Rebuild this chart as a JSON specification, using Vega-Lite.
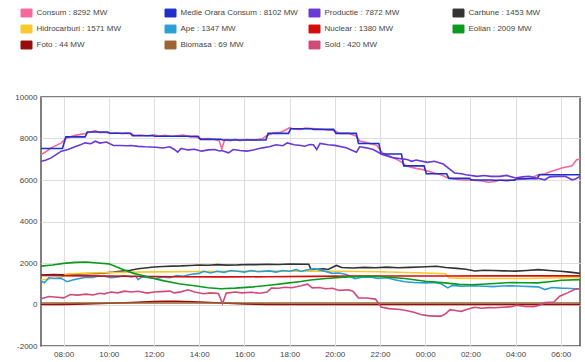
{
"$schema": "https://vega.github.io/schema/vega-lite/v6.json",
"width": 539, "height": 249,
"autosize": "none",
"padding": {"left": 41, "top": 97, "right": 5, "bottom": 16},
"config": {"font": "Liberation Sans", "view": {"stroke": "#555", "strokeWidth": 1.5},
  "axis": {"gridColor": "#dedede", "gridWidth": 1, "domain": false, "tickSize": 0, "labelFontSize": 8, "labelColor": "#444", "title": null}},
"datasets": {
"d": [
{"s":"Consum","h":7,"v":7220},{"s":"Consum","h":7.2,"v":7350},{"s":"Consum","h":7.45,"v":7550},{"s":"Consum","h":7.7,"v":7680},{"s":"Consum","h":7.9,"v":7790},{"s":"Consum","h":8.1,"v":8000},{"s":"Consum","h":8.3,"v":8080},{"s":"Consum","h":8.5,"v":8150},{"s":"Consum","h":8.75,"v":8200},{"s":"Consum","h":8.95,"v":8245},{"s":"Consum","h":9.15,"v":8300},{"s":"Consum","h":9.4,"v":8380},{"s":"Consum","h":9.6,"v":8280},{"s":"Consum","h":9.8,"v":8300},{"s":"Consum","h":10.1,"v":8245},{"s":"Consum","h":10.3,"v":8280},{"s":"Consum","h":10.6,"v":8230},{"s":"Consum","h":10.8,"v":8260},{"s":"Consum","h":11,"v":8245},{"s":"Consum","h":11.15,"v":8150},{"s":"Consum","h":11.4,"v":8170},{"s":"Consum","h":11.7,"v":8130},{"s":"Consum","h":12,"v":8180},{"s":"Consum","h":12.2,"v":8120},{"s":"Consum","h":12.5,"v":8150},{"s":"Consum","h":12.8,"v":8100},{"s":"Consum","h":13,"v":8130},{"s":"Consum","h":13.3,"v":8170},{"s":"Consum","h":13.6,"v":8080},{"s":"Consum","h":13.85,"v":8060},{"s":"Consum","h":14.1,"v":7990},{"s":"Consum","h":14.4,"v":8000},{"s":"Consum","h":14.7,"v":7950},{"s":"Consum","h":14.88,"v":7900},{"s":"Consum","h":15,"v":7500},{"s":"Consum","h":15.12,"v":7930},{"s":"Consum","h":15.4,"v":7900},{"s":"Consum","h":15.6,"v":7960},{"s":"Consum","h":15.8,"v":7890},{"s":"Consum","h":16.1,"v":7950},{"s":"Consum","h":16.4,"v":7920},{"s":"Consum","h":16.8,"v":7990},{"s":"Consum","h":17,"v":8150},{"s":"Consum","h":17.3,"v":8280},{"s":"Consum","h":17.6,"v":8300},{"s":"Consum","h":17.8,"v":8400},{"s":"Consum","h":18,"v":8520},{"s":"Consum","h":18.2,"v":8450},{"s":"Consum","h":18.5,"v":8440},{"s":"Consum","h":18.7,"v":8500},{"s":"Consum","h":19,"v":8480},{"s":"Consum","h":19.3,"v":8460},{"s":"Consum","h":19.6,"v":8420},{"s":"Consum","h":20,"v":8370},{"s":"Consum","h":20.2,"v":8245},{"s":"Consum","h":20.6,"v":8250},{"s":"Consum","h":20.96,"v":8110},{"s":"Consum","h":21.1,"v":7880},{"s":"Consum","h":21.4,"v":7800},{"s":"Consum","h":21.85,"v":7670},{"s":"Consum","h":22.1,"v":7310},{"s":"Consum","h":22.45,"v":7150},{"s":"Consum","h":22.9,"v":6900},{"s":"Consum","h":23.2,"v":6660},{"s":"Consum","h":23.6,"v":6560},{"s":"Consum","h":23.9,"v":6500},{"s":"Consum","h":24.4,"v":6340},{"s":"Consum","h":24.7,"v":6250},{"s":"Consum","h":25,"v":6095},{"s":"Consum","h":25.3,"v":6050},{"s":"Consum","h":25.5,"v":6010},{"s":"Consum","h":26.1,"v":5985},{"s":"Consum","h":26.5,"v":5950},{"s":"Consum","h":26.8,"v":5890},{"s":"Consum","h":27.1,"v":5930},{"s":"Consum","h":27.3,"v":6000},{"s":"Consum","h":27.6,"v":5960},{"s":"Consum","h":28,"v":6010},{"s":"Consum","h":28.4,"v":6050},{"s":"Consum","h":28.7,"v":6095},{"s":"Consum","h":29,"v":6255},{"s":"Consum","h":29.3,"v":6300},{"s":"Consum","h":29.6,"v":6420},{"s":"Consum","h":30.05,"v":6580},{"s":"Consum","h":30.5,"v":6690},{"s":"Consum","h":30.7,"v":6980},{"s":"Consum","h":30.85,"v":7000},

{"s":"Medie Orara Consum","h":7,"v":7520},{"s":"Medie Orara Consum","h":7.95,"v":7520},{"s":"Medie Orara Consum","h":8.1,"v":8080},{"s":"Medie Orara Consum","h":8.95,"v":8080},{"s":"Medie Orara Consum","h":9.05,"v":8310},{"s":"Medie Orara Consum","h":9.95,"v":8310},{"s":"Medie Orara Consum","h":10.05,"v":8250},{"s":"Medie Orara Consum","h":10.95,"v":8250},{"s":"Medie Orara Consum","h":11.05,"v":8130},{"s":"Medie Orara Consum","h":11.95,"v":8130},{"s":"Medie Orara Consum","h":12.05,"v":8110},{"s":"Medie Orara Consum","h":13.95,"v":8110},{"s":"Medie Orara Consum","h":14.05,"v":7960},{"s":"Medie Orara Consum","h":14.95,"v":7960},{"s":"Medie Orara Consum","h":15.05,"v":7930},{"s":"Medie Orara Consum","h":16.95,"v":7930},{"s":"Medie Orara Consum","h":17.05,"v":8245},{"s":"Medie Orara Consum","h":17.95,"v":8245},{"s":"Medie Orara Consum","h":18.05,"v":8470},{"s":"Medie Orara Consum","h":18.95,"v":8470},{"s":"Medie Orara Consum","h":19.05,"v":8440},{"s":"Medie Orara Consum","h":19.95,"v":8440},{"s":"Medie Orara Consum","h":20.05,"v":8245},{"s":"Medie Orara Consum","h":20.95,"v":8245},{"s":"Medie Orara Consum","h":21.05,"v":7760},{"s":"Medie Orara Consum","h":21.95,"v":7760},{"s":"Medie Orara Consum","h":22.05,"v":7250},{"s":"Medie Orara Consum","h":22.95,"v":7250},{"s":"Medie Orara Consum","h":23.05,"v":6680},{"s":"Medie Orara Consum","h":23.95,"v":6680},{"s":"Medie Orara Consum","h":24.05,"v":6300},{"s":"Medie Orara Consum","h":24.95,"v":6300},{"s":"Medie Orara Consum","h":25.05,"v":6080},{"s":"Medie Orara Consum","h":25.95,"v":6080},{"s":"Medie Orara Consum","h":26.05,"v":6000},{"s":"Medie Orara Consum","h":26.95,"v":6000},{"s":"Medie Orara Consum","h":27.05,"v":5990},{"s":"Medie Orara Consum","h":27.95,"v":5990},{"s":"Medie Orara Consum","h":28.05,"v":6060},{"s":"Medie Orara Consum","h":28.95,"v":6060},{"s":"Medie Orara Consum","h":29.05,"v":6250},{"s":"Medie Orara Consum","h":30.85,"v":6250},

{"s":"Productie","h":7,"v":6900},{"s":"Productie","h":7.2,"v":6950},{"s":"Productie","h":7.45,"v":7065},{"s":"Productie","h":7.7,"v":7250},{"s":"Productie","h":7.9,"v":7390},{"s":"Productie","h":8.2,"v":7470},{"s":"Productie","h":8.5,"v":7600},{"s":"Productie","h":8.75,"v":7700},{"s":"Productie","h":8.95,"v":7790},{"s":"Productie","h":9.2,"v":7750},{"s":"Productie","h":9.4,"v":7870},{"s":"Productie","h":9.6,"v":7780},{"s":"Productie","h":9.9,"v":7830},{"s":"Productie","h":10.2,"v":7660},{"s":"Productie","h":10.5,"v":7660},{"s":"Productie","h":10.8,"v":7650},{"s":"Productie","h":11,"v":7660},{"s":"Productie","h":11.3,"v":7620},{"s":"Productie","h":11.6,"v":7600},{"s":"Productie","h":12.1,"v":7580},{"s":"Productie","h":12.4,"v":7540},{"s":"Productie","h":12.7,"v":7600},{"s":"Productie","h":12.9,"v":7470},{"s":"Productie","h":13.05,"v":7340},{"s":"Productie","h":13.2,"v":7520},{"s":"Productie","h":13.5,"v":7450},{"s":"Productie","h":13.8,"v":7480},{"s":"Productie","h":14.1,"v":7390},{"s":"Productie","h":14.4,"v":7450},{"s":"Productie","h":14.7,"v":7470},{"s":"Productie","h":14.9,"v":7400},{"s":"Productie","h":15,"v":7420},{"s":"Productie","h":15.3,"v":7310},{"s":"Productie","h":15.5,"v":7470},{"s":"Productie","h":15.8,"v":7420},{"s":"Productie","h":16.1,"v":7390},{"s":"Productie","h":16.4,"v":7450},{"s":"Productie","h":16.8,"v":7550},{"s":"Productie","h":17.1,"v":7600},{"s":"Productie","h":17.4,"v":7700},{"s":"Productie","h":17.7,"v":7650},{"s":"Productie","h":17.9,"v":7790},{"s":"Productie","h":18.2,"v":7700},{"s":"Productie","h":18.5,"v":7660},{"s":"Productie","h":18.66,"v":7630},{"s":"Productie","h":18.9,"v":7710},{"s":"Productie","h":19.05,"v":7700},{"s":"Productie","h":19.2,"v":7470},{"s":"Productie","h":19.35,"v":7760},{"s":"Productie","h":19.7,"v":7700},{"s":"Productie","h":20,"v":7670},{"s":"Productie","h":20.5,"v":7550},{"s":"Productie","h":20.96,"v":7340},{"s":"Productie","h":21.1,"v":7600},{"s":"Productie","h":21.4,"v":7550},{"s":"Productie","h":21.7,"v":7470},{"s":"Productie","h":22.1,"v":7230},{"s":"Productie","h":22.6,"v":7065},{"s":"Productie","h":23.2,"v":6985},{"s":"Productie","h":23.4,"v":6900},{"s":"Productie","h":23.6,"v":6960},{"s":"Productie","h":24.1,"v":6850},{"s":"Productie","h":24.4,"v":6900},{"s":"Productie","h":24.8,"v":6770},{"s":"Productie","h":25,"v":6600},{"s":"Productie","h":25.3,"v":6340},{"s":"Productie","h":25.6,"v":6300},{"s":"Productie","h":25.8,"v":6255},{"s":"Productie","h":26.3,"v":6175},{"s":"Productie","h":26.6,"v":6220},{"s":"Productie","h":26.9,"v":6175},{"s":"Productie","h":27.3,"v":6175},{"s":"Productie","h":27.6,"v":6220},{"s":"Productie","h":28,"v":6095},{"s":"Productie","h":28.3,"v":6150},{"s":"Productie","h":28.6,"v":6175},{"s":"Productie","h":28.9,"v":6100},{"s":"Productie","h":29.3,"v":6010},{"s":"Productie","h":29.5,"v":6150},{"s":"Productie","h":29.8,"v":6175},{"s":"Productie","h":30.2,"v":6175},{"s":"Productie","h":30.5,"v":6010},{"s":"Productie","h":30.65,"v":6050},{"s":"Productie","h":30.85,"v":6175},

{"s":"Carbune","h":7,"v":1420},{"s":"Carbune","h":7.5,"v":1440},{"s":"Carbune","h":8,"v":1430},{"s":"Carbune","h":8.5,"v":1460},{"s":"Carbune","h":9,"v":1480},{"s":"Carbune","h":9.5,"v":1500},{"s":"Carbune","h":9.8,"v":1520},{"s":"Carbune","h":10.2,"v":1560},{"s":"Carbune","h":10.6,"v":1610},{"s":"Carbune","h":10.96,"v":1650},{"s":"Carbune","h":11.3,"v":1720},{"s":"Carbune","h":11.6,"v":1760},{"s":"Carbune","h":12,"v":1810},{"s":"Carbune","h":12.4,"v":1830},{"s":"Carbune","h":12.8,"v":1850},{"s":"Carbune","h":13.2,"v":1860},{"s":"Carbune","h":13.6,"v":1880},{"s":"Carbune","h":14,"v":1900},{"s":"Carbune","h":14.4,"v":1890},{"s":"Carbune","h":14.8,"v":1920},{"s":"Carbune","h":15.2,"v":1900},{"s":"Carbune","h":15.7,"v":1910},{"s":"Carbune","h":16.1,"v":1930},{"s":"Carbune","h":16.5,"v":1920},{"s":"Carbune","h":17,"v":1940},{"s":"Carbune","h":17.5,"v":1930},{"s":"Carbune","h":18,"v":1950},{"s":"Carbune","h":18.85,"v":1940},{"s":"Carbune","h":18.95,"v":1680},{"s":"Carbune","h":19.2,"v":1700},{"s":"Carbune","h":19.5,"v":1720},{"s":"Carbune","h":19.7,"v":1690},{"s":"Carbune","h":20.07,"v":1880},{"s":"Carbune","h":20.3,"v":1780},{"s":"Carbune","h":20.8,"v":1760},{"s":"Carbune","h":21.3,"v":1790},{"s":"Carbune","h":21.8,"v":1770},{"s":"Carbune","h":22.3,"v":1800},{"s":"Carbune","h":22.8,"v":1770},{"s":"Carbune","h":23.3,"v":1790},{"s":"Carbune","h":23.8,"v":1810},{"s":"Carbune","h":24.5,"v":1840},{"s":"Carbune","h":24.9,"v":1780},{"s":"Carbune","h":25.4,"v":1740},{"s":"Carbune","h":25.8,"v":1700},{"s":"Carbune","h":26.2,"v":1615},{"s":"Carbune","h":26.6,"v":1650},{"s":"Carbune","h":27,"v":1640},{"s":"Carbune","h":27.5,"v":1620},{"s":"Carbune","h":28,"v":1610},{"s":"Carbune","h":28.5,"v":1640},{"s":"Carbune","h":29,"v":1680},{"s":"Carbune","h":29.5,"v":1640},{"s":"Carbune","h":30,"v":1600},{"s":"Carbune","h":30.4,"v":1560},{"s":"Carbune","h":30.85,"v":1500},

{"s":"Hidrocarburi","h":7,"v":1180},{"s":"Hidrocarburi","h":7.4,"v":1240},{"s":"Hidrocarburi","h":7.9,"v":1290},{"s":"Hidrocarburi","h":8.1,"v":1455},{"s":"Hidrocarburi","h":9,"v":1510},{"s":"Hidrocarburi","h":10,"v":1540},{"s":"Hidrocarburi","h":12,"v":1570},{"s":"Hidrocarburi","h":14,"v":1590},{"s":"Hidrocarburi","h":16,"v":1600},{"s":"Hidrocarburi","h":18,"v":1610},{"s":"Hidrocarburi","h":20,"v":1600},{"s":"Hidrocarburi","h":22,"v":1580},{"s":"Hidrocarburi","h":24,"v":1520},{"s":"Hidrocarburi","h":24.9,"v":1480},{"s":"Hidrocarburi","h":25.05,"v":1290},{"s":"Hidrocarburi","h":25.5,"v":1270},{"s":"Hidrocarburi","h":26.5,"v":1250},{"s":"Hidrocarburi","h":27.5,"v":1250},{"s":"Hidrocarburi","h":28.5,"v":1255},{"s":"Hidrocarburi","h":29.5,"v":1275},{"s":"Hidrocarburi","h":30,"v":1290},{"s":"Hidrocarburi","h":30.85,"v":1300},

{"s":"Ape","h":7,"v":1130},{"s":"Ape","h":7.15,"v":1050},{"s":"Ape","h":7.35,"v":1290},{"s":"Ape","h":7.6,"v":1250},{"s":"Ape","h":7.85,"v":1270},{"s":"Ape","h":8,"v":1200},{"s":"Ape","h":8.15,"v":1100},{"s":"Ape","h":8.4,"v":1180},{"s":"Ape","h":8.7,"v":1250},{"s":"Ape","h":9,"v":1320},{"s":"Ape","h":9.3,"v":1300},{"s":"Ape","h":9.5,"v":1360},{"s":"Ape","h":9.8,"v":1360},{"s":"Ape","h":10.1,"v":1290},{"s":"Ape","h":10.4,"v":1330},{"s":"Ape","h":10.7,"v":1380},{"s":"Ape","h":11,"v":1330},{"s":"Ape","h":11.2,"v":1360},{"s":"Ape","h":11.3,"v":1200},{"s":"Ape","h":11.45,"v":1330},{"s":"Ape","h":11.8,"v":1290},{"s":"Ape","h":12.1,"v":1250},{"s":"Ape","h":12.4,"v":1330},{"s":"Ape","h":12.7,"v":1290},{"s":"Ape","h":13,"v":1400},{"s":"Ape","h":13.3,"v":1360},{"s":"Ape","h":13.6,"v":1450},{"s":"Ape","h":14,"v":1500},{"s":"Ape","h":14.2,"v":1600},{"s":"Ape","h":14.5,"v":1520},{"s":"Ape","h":14.8,"v":1600},{"s":"Ape","h":15.1,"v":1550},{"s":"Ape","h":15.4,"v":1640},{"s":"Ape","h":15.7,"v":1600},{"s":"Ape","h":16,"v":1560},{"s":"Ape","h":16.3,"v":1640},{"s":"Ape","h":16.6,"v":1580},{"s":"Ape","h":17.1,"v":1620},{"s":"Ape","h":17.4,"v":1560},{"s":"Ape","h":17.7,"v":1640},{"s":"Ape","h":18,"v":1600},{"s":"Ape","h":18.3,"v":1680},{"s":"Ape","h":18.5,"v":1590},{"s":"Ape","h":18.7,"v":1650},{"s":"Ape","h":19.1,"v":1730},{"s":"Ape","h":19.5,"v":1620},{"s":"Ape","h":19.9,"v":1500},{"s":"Ape","h":20.2,"v":1520},{"s":"Ape","h":20.5,"v":1450},{"s":"Ape","h":20.9,"v":1250},{"s":"Ape","h":21.2,"v":1310},{"s":"Ape","h":21.6,"v":1330},{"s":"Ape","h":21.9,"v":1250},{"s":"Ape","h":22.3,"v":1290},{"s":"Ape","h":22.7,"v":1180},{"s":"Ape","h":23.1,"v":1100},{"s":"Ape","h":23.5,"v":1060},{"s":"Ape","h":24,"v":1040},{"s":"Ape","h":24.4,"v":1060},{"s":"Ape","h":24.7,"v":1000},{"s":"Ape","h":25,"v":800},{"s":"Ape","h":25.2,"v":920},{"s":"Ape","h":25.6,"v":880},{"s":"Ape","h":26.2,"v":900},{"s":"Ape","h":26.6,"v":880},{"s":"Ape","h":27,"v":860},{"s":"Ape","h":27.4,"v":890},{"s":"Ape","h":27.8,"v":900},{"s":"Ape","h":28.3,"v":880},{"s":"Ape","h":28.7,"v":860},{"s":"Ape","h":29,"v":850},{"s":"Ape","h":29.3,"v":720},{"s":"Ape","h":29.6,"v":820},{"s":"Ape","h":30,"v":790},{"s":"Ape","h":30.3,"v":780},{"s":"Ape","h":30.6,"v":760},{"s":"Ape","h":30.85,"v":760},

{"s":"Nuclear","h":7,"v":1395},{"s":"Nuclear","h":9,"v":1380},{"s":"Nuclear","h":11,"v":1360},{"s":"Nuclear","h":13,"v":1335},{"s":"Nuclear","h":15,"v":1330},{"s":"Nuclear","h":17,"v":1335},{"s":"Nuclear","h":19,"v":1355},{"s":"Nuclear","h":21,"v":1370},{"s":"Nuclear","h":23,"v":1375},{"s":"Nuclear","h":25,"v":1375},{"s":"Nuclear","h":27,"v":1378},{"s":"Nuclear","h":29,"v":1380},{"s":"Nuclear","h":30.85,"v":1380},

{"s":"Eolian","h":7,"v":1850},{"s":"Eolian","h":7.5,"v":1900},{"s":"Eolian","h":8,"v":1980},{"s":"Eolian","h":8.5,"v":2030},{"s":"Eolian","h":9,"v":2050},{"s":"Eolian","h":9.5,"v":2000},{"s":"Eolian","h":10,"v":1960},{"s":"Eolian","h":10.3,"v":1830},{"s":"Eolian","h":10.6,"v":1700},{"s":"Eolian","h":11.1,"v":1500},{"s":"Eolian","h":11.5,"v":1400},{"s":"Eolian","h":11.8,"v":1300},{"s":"Eolian","h":12.45,"v":1140},{"s":"Eolian","h":13.1,"v":1000},{"s":"Eolian","h":13.8,"v":900},{"s":"Eolian","h":14.4,"v":810},{"s":"Eolian","h":14.95,"v":760},{"s":"Eolian","h":15.6,"v":790},{"s":"Eolian","h":16.4,"v":850},{"s":"Eolian","h":17.1,"v":930},{"s":"Eolian","h":17.9,"v":1030},{"s":"Eolian","h":18.5,"v":1110},{"s":"Eolian","h":18.93,"v":1180},{"s":"Eolian","h":19.6,"v":1250},{"s":"Eolian","h":20.4,"v":1320},{"s":"Eolian","h":21,"v":1350},{"s":"Eolian","h":21.6,"v":1360},{"s":"Eolian","h":22.1,"v":1340},{"s":"Eolian","h":23.09,"v":1250},{"s":"Eolian","h":24,"v":1120},{"s":"Eolian","h":24.86,"v":1040},{"s":"Eolian","h":25.5,"v":970},{"s":"Eolian","h":26.04,"v":955},{"s":"Eolian","h":26.9,"v":1000},{"s":"Eolian","h":27.8,"v":1060},{"s":"Eolian","h":28.4,"v":1050},{"s":"Eolian","h":28.97,"v":1040},{"s":"Eolian","h":29.5,"v":1100},{"s":"Eolian","h":30.02,"v":1170},{"s":"Eolian","h":30.85,"v":1200},

{"s":"Foto","h":7,"v":0},{"s":"Foto","h":8,"v":5},{"s":"Foto","h":9,"v":30},{"s":"Foto","h":10,"v":60},{"s":"Foto","h":11,"v":100},{"s":"Foto","h":12,"v":140},{"s":"Foto","h":12.5,"v":155},{"s":"Foto","h":13,"v":150},{"s":"Foto","h":14,"v":120},{"s":"Foto","h":15,"v":70},{"s":"Foto","h":16,"v":30},{"s":"Foto","h":17,"v":5},{"s":"Foto","h":18,"v":0},{"s":"Foto","h":24,"v":0},{"s":"Foto","h":30.85,"v":0},

{"s":"Biomasa","h":7,"v":70},{"s":"Biomasa","h":12,"v":69},{"s":"Biomasa","h":18,"v":70},{"s":"Biomasa","h":24,"v":69},{"s":"Biomasa","h":30.85,"v":69},

{"s":"Sold","h":7,"v":275},{"s":"Sold","h":7.35,"v":385},{"s":"Sold","h":7.6,"v":360},{"s":"Sold","h":8,"v":320},{"s":"Sold","h":8.3,"v":480},{"s":"Sold","h":8.6,"v":450},{"s":"Sold","h":9,"v":500},{"s":"Sold","h":9.3,"v":460},{"s":"Sold","h":9.6,"v":540},{"s":"Sold","h":9.8,"v":515},{"s":"Sold","h":10.1,"v":600},{"s":"Sold","h":10.4,"v":560},{"s":"Sold","h":10.7,"v":645},{"s":"Sold","h":11,"v":600},{"s":"Sold","h":11.3,"v":640},{"s":"Sold","h":11.7,"v":550},{"s":"Sold","h":12,"v":600},{"s":"Sold","h":12.3,"v":620},{"s":"Sold","h":12.7,"v":645},{"s":"Sold","h":12.9,"v":560},{"s":"Sold","h":13.2,"v":610},{"s":"Sold","h":13.5,"v":710},{"s":"Sold","h":13.8,"v":600},{"s":"Sold","h":14.2,"v":515},{"s":"Sold","h":14.5,"v":560},{"s":"Sold","h":14.85,"v":530},{"s":"Sold","h":15.03,"v":50},{"s":"Sold","h":15.2,"v":550},{"s":"Sold","h":15.6,"v":600},{"s":"Sold","h":15.9,"v":560},{"s":"Sold","h":16.3,"v":590},{"s":"Sold","h":16.7,"v":540},{"s":"Sold","h":17,"v":600},{"s":"Sold","h":17.2,"v":790},{"s":"Sold","h":17.5,"v":780},{"s":"Sold","h":17.8,"v":830},{"s":"Sold","h":18.1,"v":810},{"s":"Sold","h":18.5,"v":900},{"s":"Sold","h":18.8,"v":980},{"s":"Sold","h":19,"v":800},{"s":"Sold","h":19.3,"v":820},{"s":"Sold","h":19.6,"v":760},{"s":"Sold","h":19.9,"v":780},{"s":"Sold","h":20.2,"v":680},{"s":"Sold","h":20.6,"v":710},{"s":"Sold","h":20.8,"v":640},{"s":"Sold","h":21.05,"v":320},{"s":"Sold","h":21.4,"v":310},{"s":"Sold","h":21.8,"v":260},{"s":"Sold","h":22.05,"v":-120},{"s":"Sold","h":22.4,"v":-200},{"s":"Sold","h":22.9,"v":-240},{"s":"Sold","h":23.2,"v":-300},{"s":"Sold","h":23.5,"v":-370},{"s":"Sold","h":23.8,"v":-480},{"s":"Sold","h":24.1,"v":-535},{"s":"Sold","h":24.4,"v":-560},{"s":"Sold","h":24.7,"v":-560},{"s":"Sold","h":24.9,"v":-450},{"s":"Sold","h":25.1,"v":-250},{"s":"Sold","h":25.4,"v":-300},{"s":"Sold","h":25.6,"v":-330},{"s":"Sold","h":25.9,"v":-220},{"s":"Sold","h":26.2,"v":-130},{"s":"Sold","h":26.5,"v":-180},{"s":"Sold","h":26.8,"v":-150},{"s":"Sold","h":27.1,"v":-160},{"s":"Sold","h":27.4,"v":-130},{"s":"Sold","h":27.8,"v":-110},{"s":"Sold","h":28.05,"v":-40},{"s":"Sold","h":28.4,"v":-90},{"s":"Sold","h":28.8,"v":-100},{"s":"Sold","h":29.1,"v":-20},{"s":"Sold","h":29.3,"v":90},{"s":"Sold","h":29.7,"v":120},{"s":"Sold","h":29.95,"v":400},{"s":"Sold","h":30.3,"v":560},{"s":"Sold","h":30.6,"v":720},{"s":"Sold","h":30.85,"v":770}
]
},
"data": {"name": "d"},
"mark": {"type": "line", "strokeWidth": 1.6, "clip": true},
"encoding": {
  "x": {"field": "h", "type": "quantitative",
    "scale": {"domain": [7, 30.85], "nice": false, "zero": false},
    "axis": {"values": [8,10,12,14,16,18,20,22,24,26,28,30], "labelExpr": "(datum.value % 24 < 10 ? '0' : '') + (datum.value % 24) + ':00'", "labelPadding": 4}},
  "y": {"field": "v", "type": "quantitative",
    "scale": {"domain": [-2000, 10000], "nice": false},
    "axis": {"values": [-2000,0,2000,4000,6000,8000,10000], "labelExpr": "'' + datum.value", "labelPadding": 4}},
  "color": {"field": "s", "type": "nominal",
    "scale": {"domain": ["Consum","Medie Orara Consum","Productie","Carbune","Hidrocarburi","Ape","Nuclear","Eolian","Foto","Biomasa","Sold"],
      "range": ["#f7689a","#1f2fcc","#6a38d4","#333333","#f9c82a","#2a9fd6","#d40c0c","#0a9a1e","#990a0a","#9a6433","#d04a7a"]},
    "legend": {"orient": "none", "direction": "horizontal", "legendX": -20.5, "legendY": -90, "columns": 4, "gridAlign": "all", "title": null,
      "labelFontSize": 8, "labelColor": "#444", "labelOffset": 4, "padding": 0,
      "symbolType": "M-1,-0.72H1V0.72H-1Z", "symbolSize": 121, "symbolStrokeWidth": 1, "symbolStrokeColor": "#d8d8d8",
      "columnPadding": 8, "rowPadding": 4,
      "labelExpr": "datum.label + ' : ' + ['8292','8102','7872','1453','1571','1347','1380','2009','44','69','420'][indexof(['Consum','Medie Orara Consum','Productie','Carbune','Hidrocarburi','Ape','Nuclear','Eolian','Foto','Biomasa','Sold'], datum.label)] + ' MW'",
      "encode": {"symbols": {"update": {"fill": {"scale": "color", "field": "value"}, "stroke": {"value": "#d8d8d8"}, "strokeWidth": {"value": 1}, "opacity": {"value": 1}}}}
    }}
}
}
